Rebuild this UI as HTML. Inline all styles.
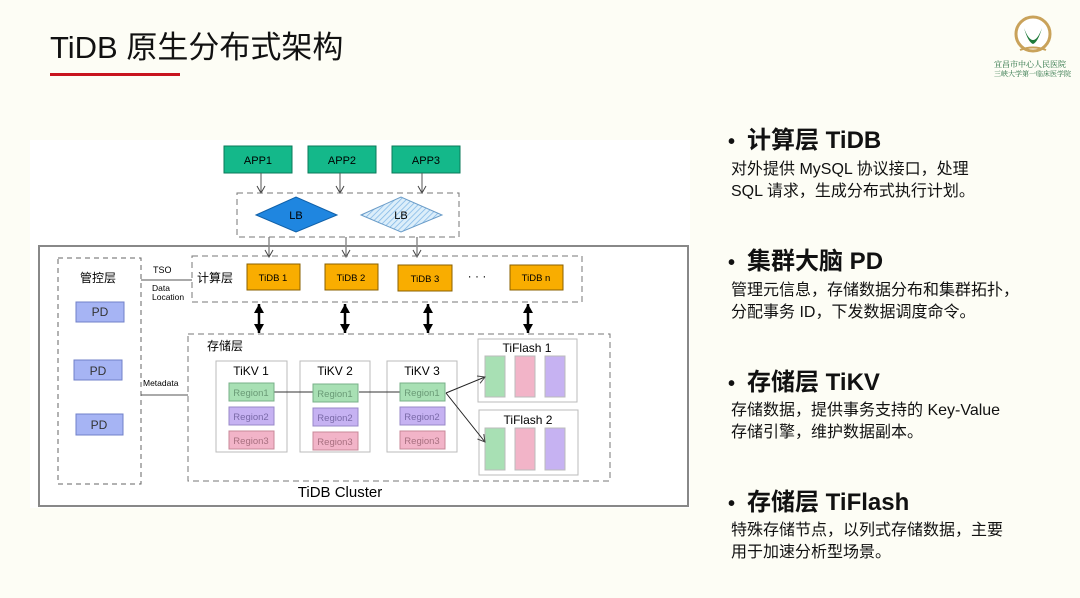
<!DOCTYPE html>
<html><head><meta charset="utf-8"><style>
body{margin:0;width:1080px;height:598px;background:#fdfdf5;position:relative;overflow:hidden;font-family:"Liberation Sans","Noto Sans CJK SC",sans-serif;}
.t{position:absolute;white-space:nowrap;color:#111}
.h{font-size:24px;font-weight:bold;left:728px;line-height:30px}
.h b{font-size:20px;margin-right:12px}
.d{font-size:16px;left:731px;line-height:22px}
</style></head><body>
<div class="t" style="left:50px;top:22px;font-size:31px;">TiDB 原生分布式架构</div>
<div style="position:absolute;left:50px;top:73px;width:130px;height:3px;background:#c8141e"></div>
<svg style="position:absolute;left:1010px;top:12px" width="46" height="46" viewBox="0 0 46 46">
<circle cx="23" cy="22" r="17" fill="#fff" stroke="#c9a25a" stroke-width="3"/>
<path d="M14 16 Q23 40 32 16 Q28 30 23 32 Q18 30 14 16Z" fill="#1e7a3a"/>
<path d="M10 38 Q23 33 36 38" stroke="#c9a25a" stroke-width="2" fill="none"/></svg>
<div class="t" style="left:994px;top:59px;font-size:8px;color:#1e6a3a;font-family:'Noto Serif CJK SC',serif">宜昌市中心人民医院</div>
<div class="t" style="left:994px;top:69px;font-size:7px;color:#1e6a3a;font-family:'Noto Serif CJK SC',serif">三峡大学第一临床医学院</div>

<svg style="position:absolute;left:0;top:0" width="700" height="598" font-family="Liberation Sans,Noto Sans CJK SC,sans-serif">
<defs>
<pattern id="hat" width="4" height="4" patternUnits="userSpaceOnUse" patternTransform="rotate(45)"><rect width="4" height="4" fill="#dceefa"/><line x1="0" y1="0" x2="0" y2="4" stroke="#7fb6e6" stroke-width="1.5"/></pattern>
<marker id="oa" markerUnits="userSpaceOnUse" markerWidth="10" markerHeight="10" refX="8" refY="5" orient="auto"><path d="M1 1 L8 5 L1 9" fill="none" stroke="#444" stroke-width="1"/></marker>
<marker id="ba" markerUnits="userSpaceOnUse" markerWidth="10" markerHeight="10" refX="9" refY="5" orient="auto-start-reverse"><path d="M0 0 L9 5 L0 10Z" fill="#000"/></marker>
</defs>
<rect x="30" y="140" width="660" height="368" fill="#fff"/>
<g font-size="11" text-anchor="middle">
<rect x="224" y="146" width="68" height="27" fill="#14b88a" stroke="#0a7a5a"/><text x="258" y="164">APP1</text>
<rect x="308" y="146" width="68" height="27" fill="#14b88a" stroke="#0a7a5a"/><text x="342" y="164">APP2</text>
<rect x="392" y="146" width="68" height="27" fill="#14b88a" stroke="#0a7a5a"/><text x="426" y="164">APP3</text>
</g>
<g stroke="#555" stroke-width="1" marker-end="url(#oa)">
<line x1="261" y1="173" x2="261" y2="193"/><line x1="340" y1="173" x2="340" y2="193"/><line x1="422" y1="173" x2="422" y2="193"/>
<line x1="269" y1="237" x2="269" y2="257"/><line x1="346" y1="237" x2="346" y2="257"/><line x1="417" y1="237" x2="417" y2="257"/>
</g>
<rect x="237" y="193" width="222" height="44" fill="none" stroke="#777" stroke-dasharray="6,4"/>
<polygon points="256,215 296,197 337,215 296,232" fill="#1f86e0" stroke="#1060a8"/>
<polygon points="361,215 401,197 442,215 401,232" fill="url(#hat)" stroke="#6a9cc8"/>
<text x="296" y="219" font-size="11" text-anchor="middle">LB</text>
<text x="401" y="219" font-size="11" text-anchor="middle">LB</text>
<rect x="39" y="246" width="649" height="260" fill="none" stroke="#888" stroke-width="2"/>
<rect x="58" y="258" width="83" height="226" fill="none" stroke="#666" stroke-dasharray="5,4"/>
<text x="80" y="282" font-size="12">管控层</text>
<g fill="#a6b4f4" stroke="#7080c8"><rect x="76" y="302" width="48" height="20"/><rect x="74" y="360" width="48" height="20"/><rect x="76" y="414" width="47" height="21"/></g>
<g font-size="12" fill="#333" text-anchor="middle"><text x="100" y="316">PD</text><text x="98" y="375">PD</text><text x="99" y="429">PD</text></g>
<line x1="141" y1="280" x2="192" y2="280" stroke="#555"/>
<line x1="141" y1="395" x2="188" y2="395" stroke="#555"/>
<text x="153" y="273" font-size="9">TSO</text>
<text x="152" y="291" font-size="8.5">Data</text><text x="152" y="300" font-size="8.5">Location</text>
<text x="143" y="386" font-size="8.5">Metadata</text>
<rect x="192" y="256" width="390" height="46" fill="none" stroke="#777" stroke-dasharray="6,4"/>
<text x="197" y="282" font-size="12">计算层</text>
<g fill="#f9ad00" stroke="#8a6000"><rect x="247" y="264" width="53" height="26"/><rect x="325" y="264" width="53" height="26"/><rect x="398" y="265" width="54" height="26"/><rect x="510" y="265" width="53" height="25"/></g>
<g font-size="9.5" text-anchor="middle"><text x="273" y="281">TiDB 1</text><text x="351" y="281">TiDB 2</text><text x="425" y="282">TiDB 3</text><text x="536" y="281">TiDB n</text></g>
<text x="477" y="280" font-size="12" text-anchor="middle">·  ·  ·</text>
<g stroke="#000" stroke-width="2.5" marker-start="url(#ba)" marker-end="url(#ba)">
<line x1="259" y1="304" x2="259" y2="333"/><line x1="345" y1="304" x2="345" y2="333"/><line x1="428" y1="304" x2="428" y2="333"/><line x1="528" y1="304" x2="528" y2="333"/>
</g>
<rect x="188" y="334" width="422" height="147" fill="none" stroke="#777" stroke-dasharray="6,4"/>
<text x="207" y="350" font-size="12">存储层</text>
<g fill="#fff" stroke="#bbb"><rect x="216" y="361" width="71" height="91"/><rect x="300" y="361" width="70" height="91"/><rect x="387" y="361" width="70" height="91"/><rect x="478" y="339" width="99" height="63"/><rect x="479" y="410" width="99" height="65"/></g>
<g font-size="12" text-anchor="middle"><text x="251" y="375">TiKV 1</text><text x="335" y="375">TiKV 2</text><text x="422" y="375">TiKV 3</text><text x="527" y="352">TiFlash 1</text><text x="528" y="424">TiFlash 2</text></g>
<line x1="274" y1="392" x2="313" y2="392" stroke="#333"/><line x1="359" y1="392" x2="400" y2="392" stroke="#333"/>
<g font-size="9.5" text-anchor="middle">
<g>
<rect x="229" y="383" width="45" height="18" fill="#a8e0b4" stroke="#78b088"/><text x="251" y="396" fill="#6a9a76">Region1</text>
<rect x="229" y="407" width="45" height="18" fill="#c6b2f2" stroke="#9888c8"/><text x="251" y="420" fill="#7a6aa8">Region2</text>
<rect x="229" y="431" width="45" height="18" fill="#f2b4c8" stroke="#c88898"/><text x="251" y="444" fill="#a87080">Region3</text>
</g>
<g transform="translate(84,1)">
<rect x="229" y="383" width="45" height="18" fill="#a8e0b4" stroke="#78b088"/><text x="251" y="396" fill="#6a9a76">Region1</text>
<rect x="229" y="407" width="45" height="18" fill="#c6b2f2" stroke="#9888c8"/><text x="251" y="420" fill="#7a6aa8">Region2</text>
<rect x="229" y="431" width="45" height="18" fill="#f2b4c8" stroke="#c88898"/><text x="251" y="444" fill="#a87080">Region3</text>
</g>
<g transform="translate(171,0)">
<rect x="229" y="383" width="45" height="18" fill="#a8e0b4" stroke="#78b088"/><text x="251" y="396" fill="#6a9a76">Region1</text>
<rect x="229" y="407" width="45" height="18" fill="#c6b2f2" stroke="#9888c8"/><text x="251" y="420" fill="#7a6aa8">Region2</text>
<rect x="229" y="431" width="45" height="18" fill="#f2b4c8" stroke="#c88898"/><text x="251" y="444" fill="#a87080">Region3</text>
</g></g>
<g stroke="#bbb"><rect x="485" y="356" width="20" height="41" fill="#a8e0b4"/><rect x="515" y="356" width="20" height="41" fill="#f2b4c8"/><rect x="545" y="356" width="20" height="41" fill="#c6b2f2"/>
<rect x="485" y="428" width="20" height="42" fill="#a8e0b4"/><rect x="515" y="428" width="20" height="42" fill="#f2b4c8"/><rect x="545" y="428" width="20" height="42" fill="#c6b2f2"/></g>
<g stroke="#222" stroke-width="1" marker-end="url(#oa)"><line x1="446" y1="393" x2="485" y2="377"/><line x1="446" y1="393" x2="485" y2="442"/></g>
<text x="340" y="497" font-size="15" text-anchor="middle">TiDB Cluster</text>
</svg>

<div class="t h" style="top:126px"><b>•</b>计算层 TiDB</div>
<div class="t d" style="top:159px">对外提供 MySQL 协议接口，处理<br>SQL 请求，生成分布式执行计划。</div>
<div class="t h" style="top:247px"><b>•</b>集群大脑 PD</div>
<div class="t d" style="top:280px">管理元信息，存储数据分布和集群拓扑，<br>分配事务 ID，下发数据调度命令。</div>
<div class="t h" style="top:368px"><b>•</b>存储层 TiKV</div>
<div class="t d" style="top:400px">存储数据，提供事务支持的 Key-Value<br>存储引擎，维护数据副本。</div>
<div class="t h" style="top:488px"><b>•</b>存储层 TiFlash</div>
<div class="t d" style="top:520px">特殊存储节点，以列式存储数据，主要<br>用于加速分析型场景。</div>
</body></html>
